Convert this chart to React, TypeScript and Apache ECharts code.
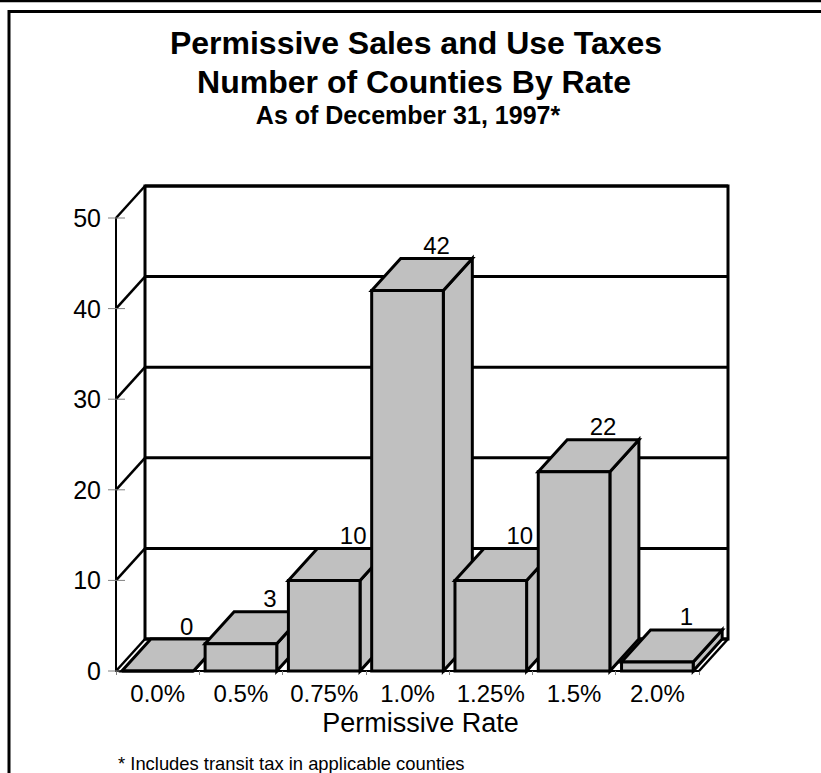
import React, { useEffect, useRef } from "react";
import * as echarts from "echarts";

const categories = ["0.0%", "0.5%", "0.75%", "1.0%", "1.25%", "1.5%", "2.0%"];
const counties = [0, 3, 10, 42, 10, 22, 1];
const yTicks = [0, 10, 20, 30, 40, 50];
const titleLines = [
  "Permissive Sales and Use Taxes",
  "Number of Counties By Rate",
  "As of December 31, 1997*",
];
const xAxisName = "Permissive Rate";
const footnote = "* Includes transit tax in applicable counties";

const DX = 29;
const DY = -32;
const FILL = "#c0c0c0";
const FONT = "'Liberation Sans', Arial, Helvetica, sans-serif";

export default function App() {
  const ref = useRef<HTMLDivElement>(null);

  useEffect(() => {
    const chart = echarts.init(ref.current as HTMLDivElement, null, { renderer: "svg" });

    const wallsRender = (params: any, api: any) => {
      const cs = params.coordSys;
      const x0 = cs.x;
      const x1 = cs.x + cs.width;
      const yMax = api.coord([0, yTicks[yTicks.length - 1]])[1];
      const y0 = api.coord([0, 0])[1];
      const children: any[] = [];
      children.push({
        type: "polygon",
        shape: {
          points: [
            [x0 + DX, yMax + DY],
            [x1 + DX, yMax + DY],
            [x1 + DX, y0 + DY],
            [x0 + DX, y0 + DY],
          ],
        },
        style: { fill: "#fff", stroke: "#000", lineWidth: 3 },
      });
      yTicks.forEach((t) => {
        const y = api.coord([0, t])[1];
        children.push({
          type: "line",
          shape: { x1: x0 + DX, y1: y + DY, x2: x1 + DX, y2: y + DY },
          style: { stroke: "#000", lineWidth: 3 },
        });
        children.push({
          type: "line",
          shape: { x1: x0, y1: y, x2: x0 + DX, y2: y + DY },
          style: { stroke: "#000", lineWidth: 2.5 },
        });
        children.push({
          type: "line",
          shape: { x1: x0 - 8, y1: y, x2: x0 + 9, y2: y },
          style: { stroke: "#808080", lineWidth: 1 },
        });
      });
      children.push({
        type: "line",
        shape: { x1: x1, y1: y0, x2: x1 + DX, y2: y0 + DY },
        style: { stroke: "#000", lineWidth: 2.5 },
      });
      return { type: "group", children };
    };

    const barsRender = (params: any, api: any) => {
      const idx = api.value(0);
      const v = api.value(1);
      const base = api.coord([idx, 0]);
      const top = api.coord([idx, v]);
      const bw = api.size([1, 0])[0] * 0.86;
      const xl = base[0] - bw / 2;
      const xr = base[0] + bw / 2;
      const yb = base[1];
      const yt = top[1];
      const st = { fill: FILL, stroke: "#000", lineWidth: 3, lineJoin: "miter" };
      return {
        type: "group",
        children: [
          {
            type: "polygon",
            shape: { points: [[xr, yt], [xr + DX, yt + DY], [xr + DX, yb + DY], [xr, yb]] },
            style: st,
          },
          {
            type: "polygon",
            shape: { points: [[xl, yt], [xl + DX, yt + DY], [xr + DX, yt + DY], [xr, yt]] },
            style: st,
          },
          {
            type: "rect",
            shape: { x: xl, y: yt, width: bw, height: yb - yt },
            style: st,
          },
          {
            type: "text",
            x: base[0] + DX,
            y: yt + DY - 13,
            style: {
              text: String(v),
              fill: "#000",
              fontSize: 24,
              fontFamily: FONT,
              align: "center",
              verticalAlign: "middle",
            },
          },
        ],
      };
    };

    const textEl = (text: string, x: number, y: number, size: number, bold: boolean, align: string) => ({
      type: "text",
      x,
      y,
      style: {
        text,
        fill: "#000",
        fontSize: size,
        fontWeight: bold ? "bold" : "normal",
        fontFamily: FONT,
        align,
        verticalAlign: "middle",
        textAlign: align,
        textVerticalAlign: "middle",
      },
    });

    const option: any = {
      animation: false,
      backgroundColor: "#fff",
      grid: { left: 116, right: 122, top: 218, bottom: 102, containLabel: false },
      xAxis: {
        type: "category",
        data: categories,
        axisLine: { show: true, lineStyle: { color: "#000", width: 2 } },
        axisTick: { show: true, length: 4, lineStyle: { color: "#808080", width: 1 } },
        axisLabel: { color: "#000", fontSize: 24, fontFamily: FONT, margin: 10, interval: 0 },
        name: xAxisName,
        nameLocation: "middle",
        nameGap: 37,
        nameTextStyle: { color: "#000", fontSize: 27, fontFamily: FONT, padding: [0, 0, 0, 26] },
        splitLine: { show: false },
      },
      yAxis: {
        type: "value",
        min: 0,
        max: 50,
        interval: 10,
        axisLine: { show: true, lineStyle: { color: "#000", width: 2 } },
        axisTick: { show: false },
        axisLabel: { color: "#000", fontSize: 25, fontFamily: FONT, margin: 15 },
        splitLine: { show: false },
      },
      graphic: [
        { type: "line", shape: { x1: 0, y1: 1, x2: 821, y2: 1 }, style: { stroke: "#000", lineWidth: 2.5 } },
        { type: "line", shape: { x1: 8, y1: 11.5, x2: 821, y2: 11.5 }, style: { stroke: "#000", lineWidth: 3 } },
        { type: "line", shape: { x1: 9, y1: 10, x2: 9, y2: 773 }, style: { stroke: "#000", lineWidth: 3 } },
        textEl(titleLines[0], 416, 43, 32, true, "center"),
        textEl(titleLines[1], 414, 82, 32, true, "center"),
        textEl(titleLines[2], 408, 115, 25, true, "center"),
        textEl(footnote, 118, 763, 18.4, false, "left"),
      ],
      series: [
        {
          type: "custom",
          z: 1,
          clip: false,
          silent: true,
          data: [[0, 0]],
          encode: { x: 0, y: 1 },
          renderItem: wallsRender,
        },
        {
          type: "custom",
          z: 3,
          clip: false,
          data: counties.map((v, i) => [i, v]),
          encode: { x: 0, y: 1 },
          renderItem: barsRender,
        },
      ],
    };

    chart.setOption(option);
    return () => chart.dispose();
  }, []);

  return (
    <div
      ref={ref}
      style={{ position: "fixed", left: 0, top: 0, width: 821, height: 773, background: "#fff" }}
    />
  );
}
